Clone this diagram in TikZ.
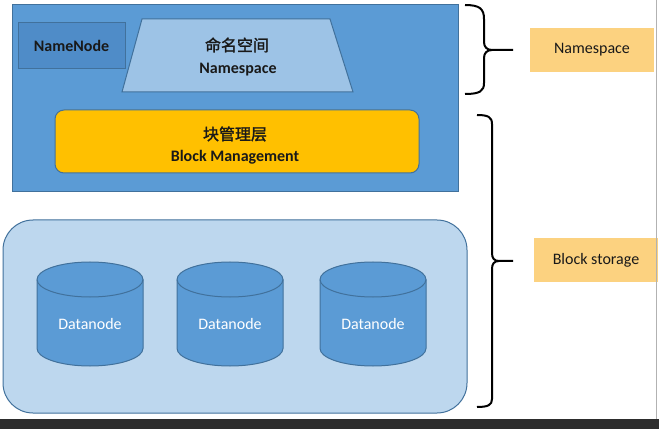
\documentclass[tikz,border=0pt]{standalone}
\usepackage{fontspec}
\setmainfont{Carlito}
\newfontfamily\cjk[FakeBold=1.6]{Noto Sans CJK SC}
\definecolor{outerblue}{RGB}{91,155,213}
\definecolor{edgeblue}{RGB}{65,113,156}
\definecolor{nnblue}{RGB}{79,140,200}
\definecolor{trapblue}{RGB}{157,195,230}
\definecolor{goldy}{RGB}{255,192,0}
\definecolor{labelor}{RGB}{252,210,128}
\definecolor{paleblue}{RGB}{189,215,238}
\definecolor{bardark}{RGB}{45,45,45}
\definecolor{txtdark}{RGB}{25,25,25}
\begin{document}
\begin{tikzpicture}[x=1pt,y=1pt,
  boxedge/.style={draw=edgeblue,line width=1pt},
  bigtxt/.style={font=\fontsize{16}{18}\selectfont\bfseries,text=txtdark,inner sep=0pt},
  cjktxt/.style={font=\fontsize{16}{18}\selectfont\cjk,text=txtdark,inner sep=0pt},
  lbltxt/.style={font=\fontsize{16}{18}\selectfont,text=txtdark,inner sep=0pt},
  dntxt/.style={font=\fontsize{16}{18}\selectfont,text=white,inner sep=0pt},
  bracepath/.style={draw=black,line width=2pt}]
\useasboundingbox (0,0) rectangle (659,429);
\fill[white] (0,0) rectangle (659,429);
% outer namenode area
\path[boxedge,fill=outerblue] (12,237) rectangle (458,424);
% NameNode box
\node[boxedge,fill=nnblue,minimum width=107pt,minimum height=46pt,inner sep=0pt] (nn) at (71.5,383) {};
\node[bigtxt] (nnt) at (nn.center) {NameNode};
% trapezoid
\path[boxedge,fill=trapblue] (142,410) -- (330,410) -- (353,337) -- (122,337) -- cycle;
\node[cjktxt] (nscn) at (237,384) {命名空间};
\node[bigtxt] (nsen) at (238,359) {Namespace};
% block management
\node[boxedge,fill=goldy,rounded corners=9pt,minimum width=364pt,minimum height=63pt,inner sep=0pt] (bm) at (237,287.5) {};
\node[cjktxt] (bmcn) at (235,295) {块管理层};
\node[bigtxt] (bmen) at (235,272) {Block Management};
% lower storage container
\node[boxedge,fill=paleblue,rounded corners=30pt,minimum width=464pt,minimum height=193pt,inner sep=0pt] (store) at (235,112.5) {};
% cylinders
\foreach \cx/\nm in {90/dn1,230/dn2,373/dn3}{
  \path[boxedge,fill=outerblue] (\cx-53,149.5) -- (\cx-53,80.5)
     arc[start angle=180,end angle=360,x radius=53pt,y radius=17.5pt]
     -- (\cx+53,149.5)
     arc[start angle=0,end angle=180,x radius=53pt,y radius=17.5pt] -- cycle;
  \draw[draw=edgeblue,line width=1pt] (\cx-53,149.5)
     arc[start angle=180,end angle=360,x radius=53pt,y radius=17.5pt];
  \node[dntxt] (\nm) at (\cx,105) {Datanode};
}
% braces
\path[bracepath] (465,424) .. controls (480,424) and (484,420) .. (484,410) -- (484,387)
  .. controls (484,382) and (487,379) .. (492,379) -- (513,379);
\path[bracepath] (492,379) .. controls (487,379) and (484,376) .. (484,371) -- (484,346)
  .. controls (484,338) and (480,335) .. (465,335);
\path[bracepath] (477,314) .. controls (488,314) and (492,312) .. (492,305) -- (492,176)
  .. controls (492,171) and (494,168) .. (499,168) -- (513,168);
\path[bracepath] (499,168) .. controls (494,168) and (492,165) .. (492,160) -- (492,30)
  .. controls (492,24) and (488,22) .. (477,22);
% labels
\node[fill=labelor,minimum width=124pt,minimum height=44pt,inner sep=0pt] (nslbl) at (592,379) {};
\node[lbltxt] (nslblt) at (nslbl.center) {Namespace};
\node[fill=labelor,minimum width=124pt,minimum height=44pt,inner sep=0pt] (bslbl) at (596,169) {};
\node[lbltxt] (bslblt) at (bslbl.center) {Block storage};
% screenshot edges
\draw[gray!60,line width=0.8pt] (656,10) -- (656,429);
\fill[bardark] (0,0) rectangle (659,10);
\end{tikzpicture}
\end{document}
